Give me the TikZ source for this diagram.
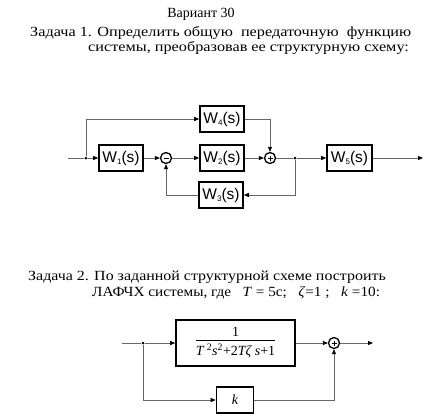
\documentclass[tikz,border=0pt]{standalone}
\usepackage{fontspec}
\setmainfont{Liberation Serif}
\newfontfamily\arialf{Liberation Sans}
\usetikzlibrary{arrows.meta}
\tikzset{
  wire/.style={draw=black!60, line width=0.8pt},
  arr/.style={wire, -{Triangle[length=5pt,width=4pt,fill=black,color=black]}},
  wbox/.style={draw=black, line width=1.6pt, minimum width=44pt, minimum height=26pt, inner sep=0pt, font=\arialf\fontsize{15.5}{15.5}\selectfont},
  sumc/.style={circle, draw=black, line width=1.3pt, minimum size=11pt, inner sep=0pt},
  jdot/.style={circle, fill=black, minimum size=3pt, inner sep=0pt},
  ttl/.style={font=\fontsize{14}{16}\selectfont, inner sep=0pt, anchor=west}
}
\newcommand{\Wsub}[1]{W\raisebox{-2pt}{\fontsize{8}{8}\selectfont #1}(s)}
\begin{document}
\begin{tikzpicture}[x=1pt,y=-1pt]
\useasboundingbox (0,0) rectangle (443,416);
% titles
\node[ttl, anchor=center] (t0) at (201,14) {Вариант 30};
\node[ttl] (t1) at (30,33) {\scalebox{1.16}[1]{Задача 1. Определить общую\ \ передаточную\ \ функцию}};
\node[ttl] (t2) at (88,48) {\scalebox{1.16}[1]{системы, преобразовав ее структурную схему:}};
\node[ttl] (t3) at (28,277) {\scalebox{1.14}[1]{Задача 2. По заданной структурной схеме построить}};
\node[ttl] (t4) at (92,293) {\scalebox{1.09}[1]{ЛАФЧХ системы, где\ \ \ \textit{T} = 5с;\ \ \ \textit{ζ}=1 ;\ \ \ \textit{k} =10:}};

% diagram 1
\coordinate (in1) at (68,158);
\node[jdot] (d1) at (86,158) {};
\node[wbox] (W1) at (121,158) {\Wsub{1}};
\node[sumc] (s1) at (166,158) {};
\draw[line width=1pt] ([xshift=-2.5pt]s1.center) -- ([xshift=2.5pt]s1.center);
\node[wbox] (W4) at (222,119) {\Wsub{4}};
\node[wbox] (W2) at (222,158) {\Wsub{2}};
\node[wbox] (W3) at (221,195) {\Wsub{3}};
\node[sumc] (s2) at (270,158) {};
\draw[line width=1pt] ([xshift=-2.5pt]s2.center) -- ([xshift=2.5pt]s2.center)
  ([yshift=-2.5pt]s2.center) -- ([yshift=2.5pt]s2.center);
\node[jdot] (d2) at (295,158) {};
\node[wbox, minimum width=45pt] (W5) at (349.5,158) {\Wsub{5}};
\coordinate (out1) at (423,158);

\draw[wire] (in1) -- (d1);
\draw[arr] (d1) -- (W1);
\draw[arr] (W1) -- (s1);
\draw[arr] (s1) -- (W2);
\draw[arr] (d1) |- (W4);
\draw[arr] (W4) -| (s2);
\draw[arr] (W2) -- (s2);
\draw[wire] (s2) -- (d2);
\draw[arr] (d2) -- (W5);
\draw[arr] (W5) -- (out1);
\draw[arr] (d2) |- (W3);
\draw[arr] (W3) -| (s1);

% diagram 2
\coordinate (in2) at (122,343);
\node[jdot] (d3) at (143,343) {};
\node[draw=black, line width=1.6pt, minimum width=119pt, minimum height=46pt, inner sep=0pt] (G) at (235.5,343)
  {\fontsize{14}{16}\selectfont\begin{tabular}{@{}c@{}}1\\[-1pt]\hline\rule{0pt}{15pt}\textit{T}\,\textsuperscript{2}\textit{s}\textsuperscript{2}+2\textit{Tζ s}+1\end{tabular}};
\node[sumc] (s3) at (334,343) {};
\draw[line width=1pt] ([xshift=-2.5pt]s3.center) -- ([xshift=2.5pt]s3.center)
  ([yshift=-2.5pt]s3.center) -- ([yshift=2.5pt]s3.center);
\coordinate (out2) at (373,343);
\node[draw=black, line width=1.6pt, minimum width=37pt, minimum height=26pt, inner sep=0pt, font=\fontsize{14}{14}\selectfont\itshape] (K) at (235,400) {k};

\draw[wire] (in2) -- (d3);
\draw[arr] (d3) -- (G);
\draw[arr] (G) -- (s3);
\draw[arr] (s3) -- (out2);
\draw[arr] (d3) |- (K);
\draw[arr] (K) -| (s3);
\end{tikzpicture}
\end{document}
